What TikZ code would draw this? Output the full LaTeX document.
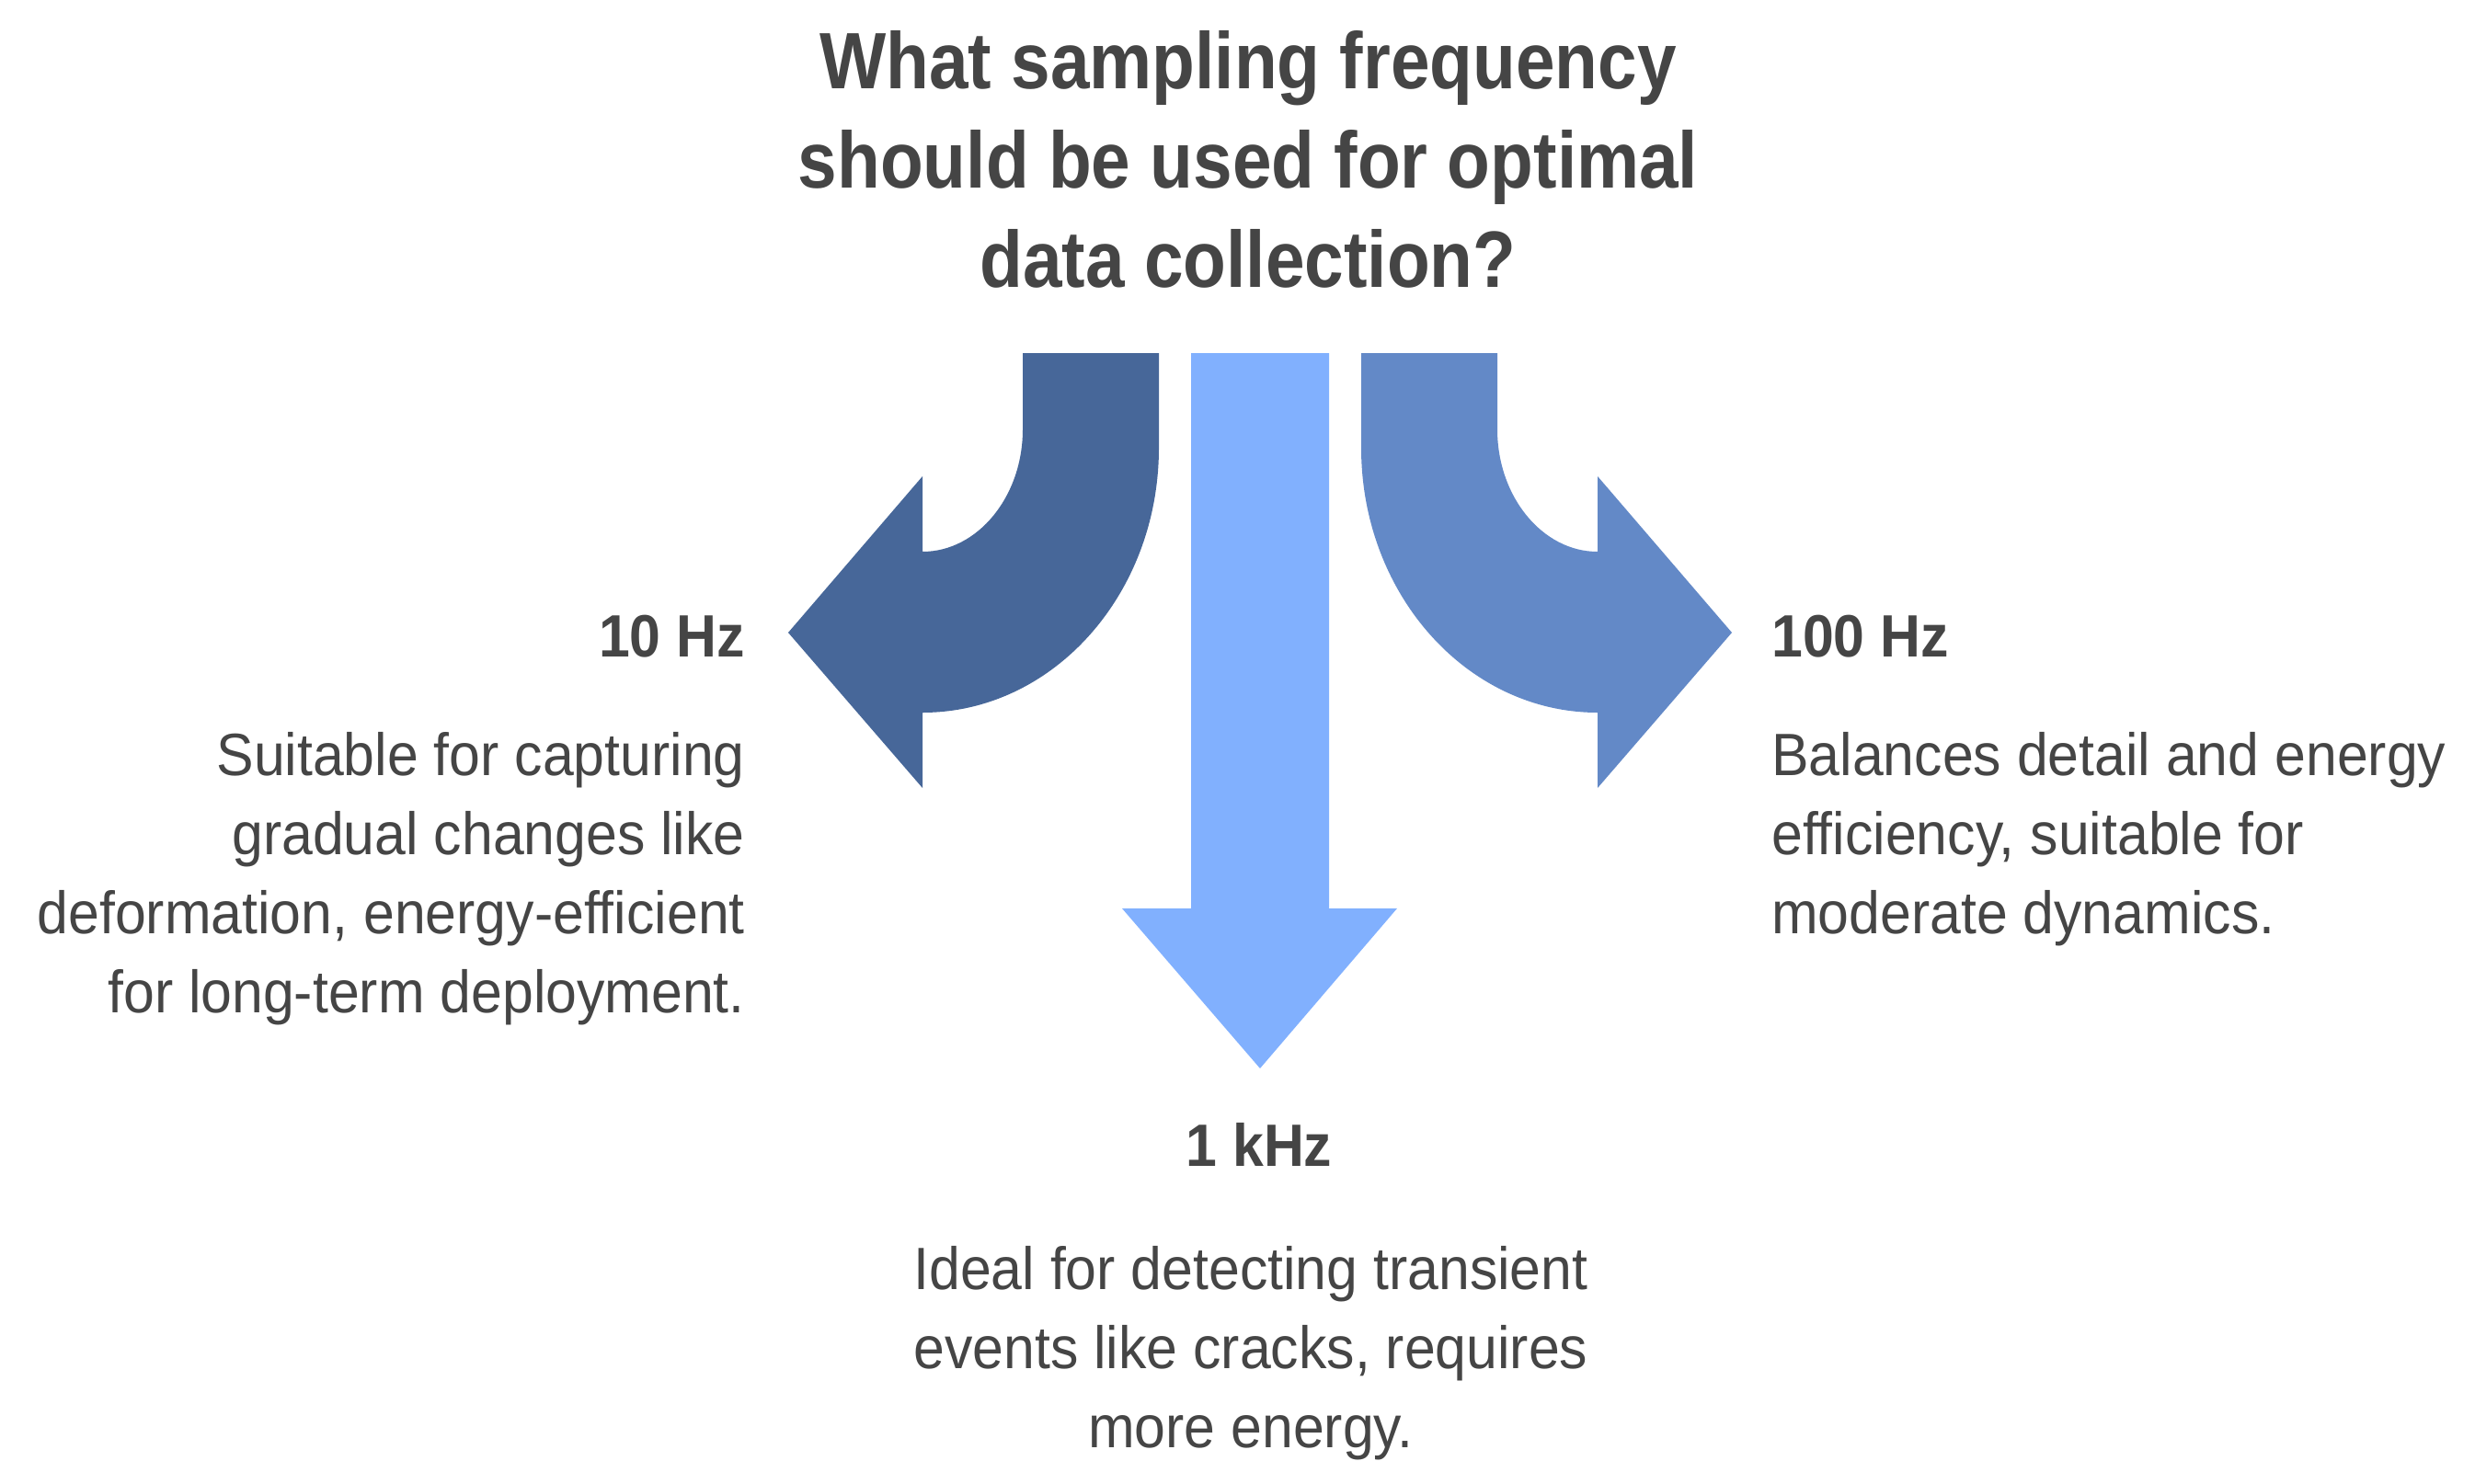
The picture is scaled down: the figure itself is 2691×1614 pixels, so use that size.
\documentclass[tikz,border=0pt]{standalone}
\usepackage{fontspec}
\setmainfont{Liberation Sans}
\newfontfamily\titlefont{Liberation Sans}[FakeStretch=0.88]
\newfontfamily\bodyfont{Liberation Sans}[FakeStretch=0.935]
\definecolor{arrowleft}{HTML}{476799}
\definecolor{arrowmid}{HTML}{81B0FE}
\definecolor{arrowright}{HTML}{6389C7}
\definecolor{txt}{HTML}{454545}
\tikzset{
  titletext/.style={inner sep=0pt, text=txt, align=center, font=\titlefont\bfseries\fontsize{87}{108}\selectfont},
  labeltext/.style={inner sep=0pt, text=txt, font=\bodyfont\bfseries\fontsize{65}{86}\selectfont},
  bodytext/.style={inner sep=0pt, text=txt, font=\bodyfont\fontsize{65}{86}\selectfont},
}
\begin{document}
\begin{tikzpicture}[x=1pt,y=-1pt]
\useasboundingbox (0,0) rectangle (2691,1614);
% arrows
\fill[arrowleft] (1112,384) -- (1260,384) -- (1260,487)
  .. controls (1260,646) and (1145,775) .. (1003,775)
  -- (1003,857) -- (857,688) -- (1003,518) -- (1003,600)
  .. controls (1063,600) and (1112,540) .. (1112,467) -- cycle;
\fill[arrowright] (1628,384) -- (1480,384) -- (1480,487)
  .. controls (1480,646) and (1595,775) .. (1737,775)
  -- (1737,857) -- (1883,688) -- (1737,518) -- (1737,600)
  .. controls (1677,600) and (1628,540) .. (1628,467) -- cycle;
\fill[arrowmid] (1295,384) -- (1445,384) -- (1445,988) -- (1519,988)
  -- (1370,1162) -- (1220,988) -- (1295,988) -- cycle;
% texts (multi-line nodes: base = last line's baseline)
\node[titletext, anchor=base] (title) at (1357,312)
  {What sampling frequency\\should be used for optimal\\data collection?};
\node[labeltext, anchor=base east] (l10) at (810,714) {10 Hz};
\node[bodytext, anchor=base east, align=right] (d10) at (810,1101)
  {Suitable for capturing\\gradual changes like\\deformation, energy-efficient\\for long-term deployment.};
\node[labeltext, anchor=base west] (l100) at (1926,714) {100 Hz};
\node[bodytext, anchor=base west, align=left] (d100) at (1926,1015)
  {Balances detail and energy\\efficiency, suitable for\\moderate dynamics.};
\node[labeltext, anchor=base] (l1k) at (1369,1268) {1 kHz};
\node[bodytext, anchor=base, align=center] (d1k) at (1360,1574)
  {Ideal for detecting transient\\events like cracks, requires\\more energy.};
\end{tikzpicture}
\end{document}
